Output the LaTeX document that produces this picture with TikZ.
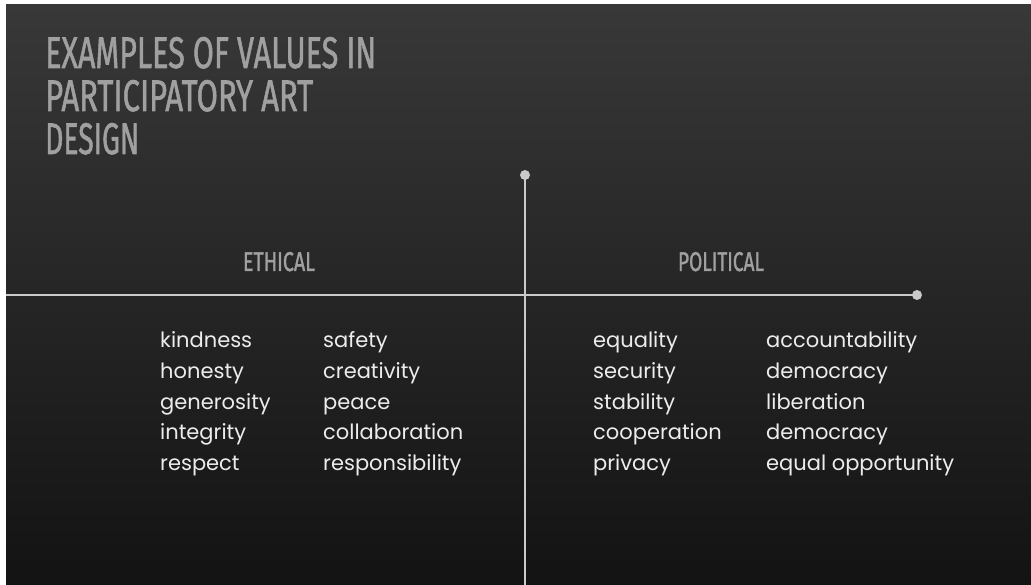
\documentclass[tikz,border=0pt]{standalone}
\usepackage{fontspec}
\usepackage{graphicx}
\setmainfont{Poppins}
\newfontfamily\titlefont[FakeBold=1.5]{Fira Sans}
\newfontfamily\wordfont{Poppins}
\definecolor{boardtop}{HTML}{383838}
\definecolor{boardbot}{HTML}{131313}
\definecolor{chalk}{HTML}{CACACA}
\definecolor{titlegray}{HTML}{A0A0A0}
\definecolor{wordwhite}{HTML}{ECECEC}
\tikzset{
  axisline/.style={draw=chalk, line width=2.6pt},
  chalkdot/.style={circle, fill=chalk, inner sep=0pt, minimum size=10pt},
  ttl/.style={anchor=base west, inner sep=0pt, text=titlegray, font=\titlefont},
  hdr/.style={anchor=base, inner sep=0pt, text=titlegray, font=\titlefont},
  word/.style={anchor=base west, inner sep=0pt, text=wordwhite, font=\wordfont\fontsize{21}{24}\selectfont},
}
\begin{document}
\begin{tikzpicture}[x=1pt,y=-1pt]
\useasboundingbox (0,0) rectangle (1031,585);
\fill[white] (0,0) rectangle (1031,585);
\shade[top color=boardtop, bottom color=boardbot] (6,5) rectangle (1031,585);
% title
\node[ttl] (t1) at (45,68) {\resizebox{331pt}{31pt}{EXAMPLES OF VALUES IN}};
\node[ttl] (t2) at (45,111) {\resizebox{268pt}{31pt}{PARTICIPATORY ART}};
\node[ttl] (t3) at (45,154) {\resizebox{94pt}{31pt}{DESIGN}};
% axes
\coordinate (hstart) at (6,295);
\node[chalkdot] (hdot) at (917,295) {};
\node[chalkdot] (vdot) at (525,175) {};
\coordinate (vend) at (525,585);
\draw[axisline] (hstart) -- (hdot.center);
\draw[axisline] (vdot.center) -- (vend);
% headers
\node[hdr] (eth) at (279,271) {\resizebox{72pt}{19pt}{ETHICAL}};
\node[hdr] (pol) at (721,271) {\resizebox{86pt}{19pt}{POLITICAL}};
% words
\foreach \w [count=\i] in {kindness,honesty,generosity,integrity,respect}
  \node[word] (ea\i) at (160,{348+30.5*(\i-1)}) {\w};
\foreach \w [count=\i] in {safety,creativity,peace,collaboration,responsibility}
  \node[word] (eb\i) at (323,{348+30.5*(\i-1)}) {\w};
\foreach \w [count=\i] in {equality,security,stability,cooperation,privacy}
  \node[word] (pa\i) at (593,{348+30.5*(\i-1)}) {\w};
\foreach \w [count=\i] in {accountability,democracy,liberation,democracy,equal opportunity}
  \node[word] (pb\i) at (766,{348+30.5*(\i-1)}) {\w};
\end{tikzpicture}
\end{document}
